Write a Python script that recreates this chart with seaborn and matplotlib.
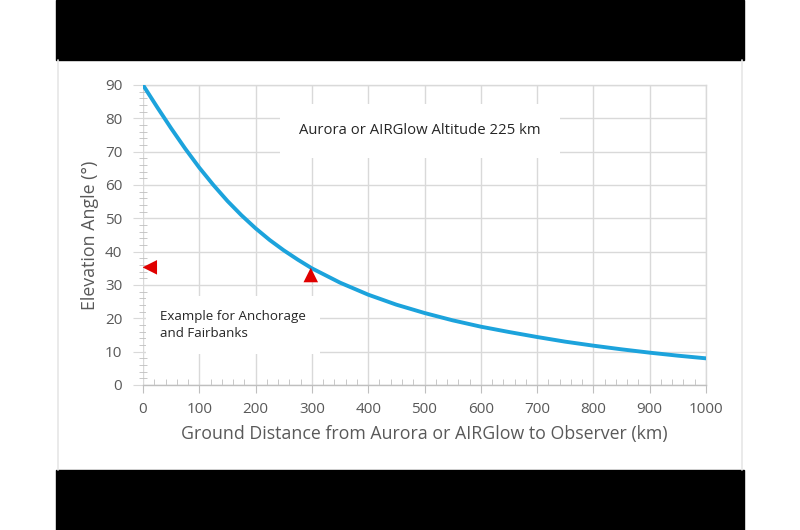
import matplotlib.pyplot as plt
from matplotlib.patches import Rectangle
from matplotlib.lines import Line2D
from matplotlib.ticker import MultipleLocator
import pandas as pd
import seaborn as sns

# Elevation angle (altitude 225 km)
distance_km = [0, 25, 50, 75, 100, 125, 150, 175, 200, 225, 250, 275, 300,
               350, 400, 450, 500, 550, 600, 650, 700, 750, 800, 850, 900, 950, 1000]
elevation_deg = [90.0, 83.4, 77.0, 70.9, 65.2, 60.0, 55.2, 50.9, 47.0, 43.5, 40.4, 37.6, 35.0,
                 30.7, 27.1, 24.1, 21.6, 19.4, 17.5, 15.9, 14.4, 13.0, 11.8, 10.7, 9.7, 8.8, 8.0]

# Anchorage / Fairbanks example markers
marker_left_x = [12]
marker_left_y = [35.3]
marker_up_x = [298]
marker_up_y = [33.0]

df = pd.DataFrame({'distance': distance_km, 'elevation': elevation_deg})

sns.set_style('white')
plt.rcParams['font.family'] = ['Open Sans', 'DejaVu Sans']

grid_col = '#D9D9D9'
text_col = '#595959'

fig = plt.figure(figsize=(8, 5.3), dpi=100)
ax = fig.add_axes([143/800, 1-385/530, (706-143)/800, (385-85)/530])

# black letterbox bands and frame
fig.patches.append(Rectangle((56/800, 1-60/530), (744-56)/800, 60/530,
                             transform=fig.transFigure, color='black', zorder=0))
fig.patches.append(Rectangle((56/800, 0), (744-56)/800, 60/530,
                             transform=fig.transFigure, color='black', zorder=0))
for xp in [58/800, 742/800]:
    fig.lines.append(Line2D([xp, xp], [60/530, 1-60/530], transform=fig.transFigure,
                            color='#E6E6E6', lw=1.2))

sns.lineplot(data=df, x='distance', y='elevation', ax=ax, color='#1CA3DC', lw=2.8, zorder=4)
sns.scatterplot(x=marker_left_x, y=marker_left_y, ax=ax, marker='<', s=110,
                color='#E00000', edgecolor='none', zorder=5)
sns.scatterplot(x=marker_up_x, y=marker_up_y, ax=ax, marker='^', s=110,
                color='#E00000', edgecolor='none', zorder=5)

ax.set_xlim(0, 1000)
ax.set_ylim(0, 90)
ax.xaxis.set_major_locator(MultipleLocator(100))
ax.xaxis.set_minor_locator(MultipleLocator(20))
ax.yaxis.set_major_locator(MultipleLocator(10))
ax.yaxis.set_minor_locator(MultipleLocator(2))

ax.grid(True, which='major', color=grid_col, lw=1)
ax.set_axisbelow(True)
ax.spines['left'].set_visible(False)
for s in ['top', 'right']:
    ax.spines[s].set_color(grid_col)
    ax.spines[s].set_linewidth(1)
ax.spines['bottom'].set_color('#BFBFBF')
ax.spines['bottom'].set_linewidth(1)

ax.tick_params(axis='x', which='major', direction='out', length=6, color='#BFBFBF',
               labelsize=11, labelcolor=text_col, pad=6)
ax.tick_params(axis='x', which='minor', direction='in', length=4, color='#BFBFBF')
ax.tick_params(axis='y', which='major', direction='out', length=7, color=grid_col,
               labelsize=11, labelcolor=text_col, pad=8)
ax.tick_params(axis='y', which='minor', direction='inout', length=6, color='#BFBFBF')
ax.tick_params(bottom=True, left=True, which='both')

ax.set_xlabel('Ground Distance from Aurora or AIRGlow to Observer (km)',
              fontsize=12.8, color=text_col, labelpad=6)
ax.set_ylabel('Elevation Angle (°)', fontsize=12.8, color=text_col, labelpad=4)

ax.text(492, 76.2, 'Aurora or AIRGlow Altitude 225 km', ha='center', va='center',
        fontsize=10.7, color='#262626', zorder=3,
        bbox=dict(facecolor='white', edgecolor='none', pad=14))
ax.text(30, 18.0, 'Example for Anchorage\nand Fairbanks', ha='left', va='center',
        fontsize=9.6, color='#262626', linespacing=1.45, zorder=3,
        bbox=dict(facecolor='white', edgecolor='none', pad=10))

fig.savefig('out.png', dpi=100)
